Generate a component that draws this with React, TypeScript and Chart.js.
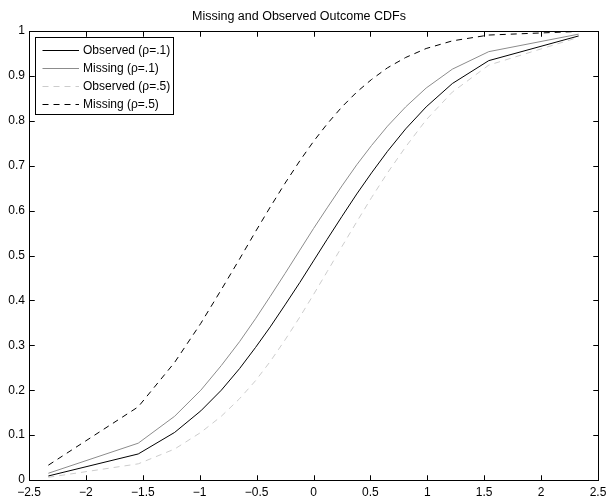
import React, { useEffect, useRef } from 'react';
import { Chart, registerables } from 'chart.js';

Chart.register(...registerables);

const titleText = 'Missing and Observed Outcome CDFs';

const xValues = [-2.33, -1.54, -1.22, -0.99, -0.81, -0.65, -0.51, -0.38, -0.25, -0.12, 0, 0.12, 0.25, 0.38, 0.51, 0.65, 0.81, 0.99, 1.22, 1.54, 2.33];

const observedRho1 = [0.009, 0.058, 0.106, 0.154, 0.2, 0.248, 0.295, 0.341, 0.39, 0.44, 0.488, 0.536, 0.587, 0.637, 0.684, 0.732, 0.782, 0.831, 0.883, 0.934, 0.989];
const missingRho1 = [0.015, 0.082, 0.142, 0.2, 0.255, 0.308, 0.359, 0.409, 0.46, 0.512, 0.56, 0.606, 0.655, 0.702, 0.745, 0.788, 0.831, 0.873, 0.915, 0.954, 0.993];
const observedRho5 = [0.006, 0.036, 0.069, 0.106, 0.142, 0.181, 0.221, 0.264, 0.312, 0.363, 0.413, 0.464, 0.52, 0.575, 0.629, 0.684, 0.742, 0.802, 0.864, 0.924, 0.986];
const missingRho5 = [0.033, 0.163, 0.262, 0.349, 0.424, 0.492, 0.553, 0.608, 0.661, 0.711, 0.754, 0.793, 0.831, 0.864, 0.892, 0.918, 0.941, 0.961, 0.978, 0.991, 0.999];

const seriesLabels = ['Observed (\u03c1=.1)', 'Missing (\u03c1=.1)', 'Observed (\u03c1=.5)', 'Missing (\u03c1=.5)'];
const seriesColors = ['#000000', '#8c8c8c', '#cccccc', '#000000'];
const seriesDashes: number[][] = [[], [], [6, 5], [6, 5]];

const xTickValues = [-2.5, -2, -1.5, -1, -0.5, 0, 0.5, 1, 1.5, 2, 2.5];
const xTickLabels = ['\u22122.5', '\u22122', '\u22121.5', '\u22121', '\u22120.5', '0', '0.5', '1', '1.5', '2', '2.5'];
const yTickValues = [0, 0.1, 0.2, 0.3, 0.4, 0.5, 0.6, 0.7, 0.8, 0.9, 1];
const yTickLabels = ['0', '0.1', '0.2', '0.3', '0.4', '0.5', '0.6', '0.7', '0.8', '0.9', '1'];

const FONT = 'Liberation Sans, Arial, Helvetica, sans-serif';

function drawFrame(chart: any) {
  const ctx = chart.ctx;
  const a = chart.chartArea;
  const sx = chart.scales.x;
  const sy = chart.scales.y;
  const L = Math.round(a.left) + 0.5;
  const R = Math.round(a.right) + 0.5;
  const T = Math.round(a.top) + 0.5;
  const B = Math.round(a.bottom) + 0.5;
  ctx.save();
  ctx.setLineDash([]);
  ctx.strokeStyle = '#000000';
  ctx.lineWidth = 1;
  ctx.strokeRect(L, T, R - L, B - T);
  const tl = 5;
  ctx.beginPath();
  for (const v of xTickValues) {
    const px = Math.round(sx.getPixelForValue(v)) + 0.5;
    ctx.moveTo(px, B);
    ctx.lineTo(px, B - tl);
    ctx.moveTo(px, T);
    ctx.lineTo(px, T + tl);
  }
  for (const v of yTickValues) {
    const py = Math.round(sy.getPixelForValue(v)) + 0.5;
    ctx.moveTo(L, py);
    ctx.lineTo(L + tl, py);
    ctx.moveTo(R, py);
    ctx.lineTo(R - tl, py);
  }
  ctx.stroke();
  ctx.restore();
}

function drawLegend(chart: any) {
  const ctx = chart.ctx;
  const a = chart.chartArea;
  ctx.save();
  ctx.font = `12px ${FONT}`;
  const datasets = chart.data.datasets;
  let maxW = 0;
  datasets.forEach((d: any) => {
    maxW = Math.max(maxW, ctx.measureText(d.label).width);
  });
  const boxL = Math.round(a.left) + 6;
  const boxT = Math.round(a.top) + 6;
  const lineX0 = boxL + 7.5;
  const lineX1 = lineX0 + 36.5;
  const textX = lineX1 + 4;
  const rowH = 18.3;
  const boxW = Math.round(textX - boxL + maxW + 3);
  const boxH = Math.round(rowH * datasets.length + 4);
  ctx.fillStyle = '#ffffff';
  ctx.fillRect(boxL, boxT, boxW, boxH);
  ctx.strokeStyle = '#000000';
  ctx.lineWidth = 1;
  ctx.setLineDash([]);
  ctx.strokeRect(boxL + 0.5, boxT + 0.5, boxW, boxH);
  datasets.forEach((d: any, i: number) => {
    const y = Math.round(boxT + 12.5 + i * rowH) + 0.5;
    ctx.beginPath();
    ctx.strokeStyle = d.borderColor;
    ctx.setLineDash(d.borderDash || []);
    ctx.moveTo(lineX0, y);
    ctx.lineTo(lineX1, y);
    ctx.stroke();
    ctx.setLineDash([]);
    ctx.fillStyle = '#000000';
    ctx.textAlign = 'left';
    ctx.textBaseline = 'middle';
    ctx.fillText(d.label, textX, y);
  });
  ctx.restore();
}

const framePlugin = {
  id: 'matlabFrame',
  afterDatasetsDraw(chart: any) {
    drawFrame(chart);
  },
  afterDraw(chart: any) {
    drawFrame(chart);
    drawLegend(chart);
  },
};

export default function App() {
  const ref = useRef<HTMLCanvasElement | null>(null);

  useEffect(() => {
    if (!ref.current) return;
    const series = [observedRho1, missingRho1, observedRho5, missingRho5];
    const chart = new Chart(ref.current, {
      type: 'line',
      data: {
        datasets: series.map((vals, i) => ({
          label: seriesLabels[i],
          data: xValues.map((x, j) => ({ x, y: vals[j] })),
          borderColor: seriesColors[i],
          borderDash: seriesDashes[i],
          borderWidth: 1,
          pointRadius: 0,
          tension: 0,
          fill: false,
        })),
      },
      options: {
        responsive: false,
        animation: false,
        layout: { padding: { left: 0, right: 11, top: 0, bottom: 0 } },
        scales: {
          x: {
            type: 'linear',
            min: -2.5,
            max: 2.5,
            grid: { display: false, drawTicks: false },
            border: { display: false },
            afterBuildTicks: (scale: any) => {
              scale.ticks = xTickValues.map((v) => ({ value: v }));
            },
            afterFit: (scale: any) => {
              scale.height = 17;
              scale.paddingLeft = 0;
              scale.paddingRight = 0;
            },
            ticks: {
              color: '#000',
              font: { family: FONT, size: 12 },
              padding: 5,
              maxRotation: 0,
              autoSkip: false,
              callback: (v: any) => {
                const idx = xTickValues.indexOf(Number(v));
                return idx >= 0 ? xTickLabels[idx] : '';
              },
            },
          },
          y: {
            type: 'linear',
            min: 0,
            max: 1,
            grid: { display: false, drawTicks: false },
            border: { display: false },
            afterBuildTicks: (scale: any) => {
              scale.ticks = yTickValues.map((v) => ({ value: v }));
            },
            afterFit: (scale: any) => {
              scale.width = 29;
            },
            ticks: {
              color: '#000',
              font: { family: FONT, size: 12 },
              padding: 4,
              autoSkip: false,
              callback: (v: any) => {
                const idx = yTickValues.findIndex((t) => Math.abs(t - Number(v)) < 1e-9);
                return idx >= 0 ? yTickLabels[idx] : '';
              },
            },
          },
        },
        plugins: {
          legend: { display: false },
          tooltip: { enabled: false },
          title: {
            display: true,
            text: titleText,
            color: '#000',
            font: { family: FONT, size: 12.5, weight: 'normal' },
            padding: { top: 9, bottom: 7 },
          },
        },
      },
      plugins: [framePlugin],
    } as any);
    return () => chart.destroy();
  }, []);

  return (
    <div style={{ position: 'absolute', left: 0, top: 0, width: 609, height: 497, background: '#fff' }}>
      <canvas ref={ref} width={609} height={497} />
    </div>
  );
}
